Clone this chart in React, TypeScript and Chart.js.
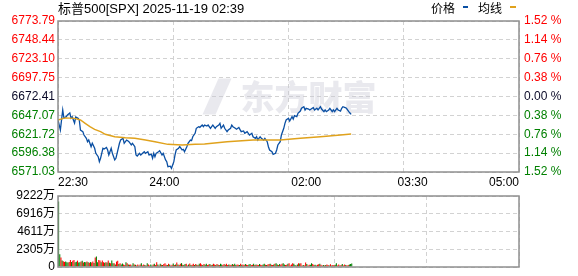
import React, { useEffect, useRef } from 'react';
import { Chart, registerables } from 'chart.js';

Chart.register(...registerables);

// ---------- data ----------
const titleText = '标普500[SPX] 2025-11-19 02:39';
const legendPrice = '价格';
const legendAvg = '均线';
const prevClose = 6672.41;

const priceTicks = [6571.03, 6596.38, 6621.72, 6647.07, 6672.41, 6697.75, 6723.1, 6748.44, 6773.79];
const pctTicks = [-1.52, -1.14, -0.76, -0.38, 0, 0.38, 0.76, 1.14, 1.52];
const timeTickMinutes = [0, 90, 210, 300, 390];
const timeTickLabels = ['22:30', '24:00', '02:00', '03:30', '05:00'];
const gridMinutes = [0, 97.5, 195, 292.5, 390];
const volumeTicks = [0, 2305, 4611, 6916, 9222];

const priceMinutes = [
  0, 2, 4, 5, 7, 8, 10, 11, 12, 14,
  15, 17, 18, 19, 21, 22, 24, 25, 26, 28,
  29, 31, 32, 34, 35, 36, 38, 39, 41, 42,
  43, 45, 46, 48, 49, 50, 52, 53, 55, 56,
  58, 59, 60, 62, 63, 65, 66, 67, 69, 70,
  72, 73, 74, 76, 77, 79, 80, 81, 82, 83,
  85, 86, 88, 89, 91, 92, 93, 95, 96, 98,
  99, 100, 102, 103, 105, 106, 107, 109, 110, 112,
  113, 114, 116, 117, 119, 120, 122, 123, 124, 126,
  127, 129, 130, 131, 133, 134, 136, 137, 138, 140,
  141, 143, 144, 146, 147, 148, 150, 151, 153, 154,
  155, 157, 158, 160, 161, 162, 164, 165, 167, 168,
  169, 171, 172, 174, 175, 177, 178, 179, 181, 182,
  184, 185, 186, 188, 189, 191, 192, 193, 195, 196,
  198, 199, 200, 202, 203, 205, 206, 208, 209, 210,
  212, 213, 215, 216, 217, 219, 220, 222, 223, 225,
  226, 227, 229, 230, 232, 233, 234, 236, 237, 239,
  240, 241, 243, 244, 246, 247, 248,
];

const priceValues = [
  6640.9, 6627.4, 6654.3, 6643.5, 6645.3, 6647.6, 6650.3, 6643.5, 6645.3, 6636.8,
  6644.9, 6643.1, 6640.9, 6627.4, 6625.2, 6620.7, 6616.3, 6611.7, 6614.0, 6605.0,
  6609.6, 6602.9, 6596.1, 6591.6, 6584.9, 6589.4, 6602.9, 6601.8, 6603.9, 6600.6,
  6593.9, 6602.9, 6596.1, 6587.2, 6589.4, 6596.1, 6609.6, 6614.0, 6616.3, 6609.6,
  6614.0, 6613.1, 6611.7, 6607.3, 6609.6, 6605.0, 6593.9, 6592.5, 6596.1, 6593.9,
  6596.9, 6598.3, 6596.1, 6598.3, 6593.9, 6594.8, 6589.4, 6596.1, 6591.6, 6596.1,
  6598.3, 6599.6, 6593.9, 6596.1, 6587.2, 6584.9, 6578.2, 6578.9, 6576.0, 6584.9,
  6593.9, 6600.6, 6602.9, 6605.0, 6600.6, 6601.5, 6598.3, 6605.0, 6609.6, 6614.0,
  6613.2, 6618.4, 6623.0, 6629.7, 6631.9, 6631.0, 6634.1, 6631.9, 6634.1, 6632.8,
  6634.1, 6629.7, 6631.9, 6634.1, 6629.7, 6631.9, 6634.1, 6636.4, 6629.7, 6634.1,
  6629.7, 6625.2, 6627.4, 6629.7, 6634.1, 6631.9, 6629.7, 6628.5, 6630.8, 6627.9,
  6625.2, 6626.1, 6623.0, 6625.2, 6623.0, 6620.7, 6623.0, 6618.4, 6616.3, 6618.4,
  6614.0, 6618.4, 6616.3, 6614.0, 6616.3, 6611.7, 6605.0, 6600.6, 6598.3, 6594.8,
  6596.1, 6600.6, 6607.3, 6611.7, 6620.7, 6629.7, 6636.4, 6640.9, 6643.1, 6639.5,
  6645.3, 6642.2, 6646.6, 6645.3, 6649.9, 6652.9, 6656.6, 6658.7, 6654.3, 6656.6,
  6655.6, 6654.3, 6656.6, 6657.4, 6654.3, 6656.6, 6654.3, 6658.7, 6655.6, 6652.0,
  6654.3, 6652.0, 6654.3, 6656.6, 6652.0, 6654.3, 6652.0, 6656.6, 6654.3, 6652.9,
  6656.6, 6658.7, 6657.4, 6656.6, 6652.0, 6650.3, 6648.5,
];

const avgMinutes = [0, 6, 14, 19, 23, 27, 31, 36, 40, 48, 57, 65, 74, 82, 93, 105, 116, 124, 143, 165, 188, 205, 222, 239, 248];
const avgValues = [
  6640.9, 6643.7, 6643.1, 6640.9, 6636.4, 6631.9, 6628.4, 6625.2, 6621.7, 6618.4,
  6617.1, 6616.3, 6614.0, 6611.7, 6608.2, 6607.3, 6608.2, 6608.6, 6611.7, 6614.0,
  6614.0, 6616.3, 6618.4, 6620.7, 6622.1,
];

// volume per minute, in 万
const volumes = [
  8500, 1650, 1250, 830, 750, 660, 700, 620, 600, 660,
  910, 640, 820, 900, 620, 680, 830, 600, 620, 700,
  820, 580, 640, 620, 700, 620, 560, 640, 600, 700,
  520, 1250, 1370, 620, 910, 830, 620, 830, 620, 540,
  620, 600, 830, 540, 480, 830, 500, 500, 330, 700,
  820, 400, 500, 330, 450, 330, 250, 620, 500, 330,
  300, 330, 210, 500, 330, 280, 200, 330, 210, 330,
  500, 200, 330, 250, 210, 500, 330, 210, 330, 200,
  330, 420, 250, 620, 330, 200, 420, 300, 250, 380,
  500, 300, 250, 420, 330, 200, 300, 460, 250, 330,
  580, 330, 250, 420, 500, 300, 250, 380, 420, 200,
  330, 460, 250, 300, 420, 250, 380, 300, 250, 420,
  500, 330, 250, 380, 300, 420, 250, 330, 380, 250,
  300, 420, 330, 250, 380, 300, 250, 420, 330, 250,
  380, 300, 420, 250, 330, 300, 250, 380, 300, 420,
  250, 330, 300, 250, 420, 300, 330, 250, 380, 300,
  250, 330, 380, 250, 300, 420, 250, 330, 300, 250,
  380, 300, 250, 330, 420, 300, 250, 330, 380, 420,
  300, 250, 330, 420, 500, 330, 250, 380, 300, 420,
  500, 330, 250, 300, 420, 500, 210, 330, 500, 420,
  250, 210, 330, 500, 450, 500, 210, 250, 210, 580,
  380, 210, 300, 300, 500, 380, 250, 300, 210, 300,
  350, 420, 300, 210, 250, 210, 250, 330, 250, 200,
  350, 210, 250, 250, 300, 500, 200, 330, 210, 250,
  380, 210, 330, 250, 210, 250, 330, 380, 450,
];

// r = up (red), g = down (green)
const volumeDirs = [
  'ggrgrrgggr', 'rgrrggrggr', 'grggrgrgrr', 'grggrrgrrg', 'rgrgrggrgr',
  'rgrggrrgrg', 'rrggrgrrgr', 'grrgrgrrgg', 'rgrrgrgrgr', 'rrgrgrrgrg',
  'rgrrgrggrr', 'grgrrgrgrg', 'rrgrggrrgr', 'grrgrgrggr', 'rgrrgrrgrg',
  'grrgrgrrgr', 'rggrrgrgrr', 'grrggrgrrg', 'rrgrggrgrr', 'ggrrgrrrrg',
  'grgrgrrgrr', 'grrggrrggr', 'rgrrgrgrrg', 'rgrrggrrgr', 'grrgrrggg',
].join('');

const volumeMinutes = Array.from({ length: 390 }, (_, i) => i);

// ---------- styles ----------
const FONT = "'Liberation Sans', 'Noto Sans CJK SC', sans-serif";
const RED = '#ff0000';
const GREEN = '#008000';
const DARK = '#0a0a28';
const GRID = '#d2d2d2';
const FRAME = '#8f8f8f';
const BLUE = '#0a4fa3';
const GOLD = '#e0a21c';

const priceColor = (v: number) => (Math.abs(v - prevClose) < 0.01 ? DARK : v > prevClose ? RED : GREEN);
const pctColor = (v: number) => (Math.abs(v) < 0.001 ? DARK : v > 0 ? RED : GREEN);

const framePlugin = {
  id: 'frame',
  afterDraw(chart: any) {
    const { ctx, chartArea } = chart;
    ctx.save();
    ctx.strokeStyle = FRAME;
    ctx.lineWidth = 1.5;
    ctx.strokeRect(chartArea.left, chartArea.top, chartArea.right - chartArea.left, chartArea.bottom - chartArea.top);
    ctx.restore();
  },
};

const watermarkPlugin = {
  id: 'watermark',
  beforeDatasetsDraw(chart: any) {
    const { ctx, chartArea } = chart;
    const cx = (chartArea.left + chartArea.right) / 2;
    const cy = (chartArea.top + chartArea.bottom) / 2;
    ctx.save();
    ctx.fillStyle = 'rgba(200,200,212,0.4)';
    ctx.font = "900 34px 'Noto Sans CJK SC', sans-serif";
    ctx.textAlign = 'center';
    ctx.textBaseline = 'middle';
    ctx.fillText('东方财富', cx + 20, cy + 1);
    ctx.beginPath();
    ctx.moveTo(cx - 86, cy + 18);
    ctx.lineTo(cx - 70, cy - 18);
    ctx.lineTo(cx - 57, cy - 18);
    ctx.lineTo(cx - 73, cy + 18);
    ctx.closePath();
    ctx.fill();
    ctx.restore();
  },
};

export default function App() {
  const priceRef = useRef<HTMLCanvasElement>(null);
  const volRef = useRef<HTMLCanvasElement>(null);

  useEffect(() => {
    Chart.defaults.font.family = FONT;
    Chart.defaults.font.size = 12;

    const priceChart = new Chart(priceRef.current as HTMLCanvasElement, {
      type: 'line',
      data: {
        datasets: [
          {
            label: legendAvg,
            data: avgMinutes.map((m, i) => ({ x: m, y: avgValues[i] })),
            borderColor: GOLD,
            borderWidth: 1.4,
            pointRadius: 0,
            tension: 0,
            xAxisID: 'x',
            yAxisID: 'y',
          },
          {
            label: legendPrice,
            data: priceMinutes.map((m, i) => ({ x: m, y: priceValues[i] })),
            borderColor: BLUE,
            borderWidth: 1.3,
            pointRadius: 0,
            tension: 0,
            xAxisID: 'x',
            yAxisID: 'y',
          },
        ],
      },
      options: {
        animation: false,
        responsive: false,
        layout: { padding: { top: 21, left: 0, right: 0, bottom: 0 } },
        plugins: { legend: { display: false }, tooltip: { enabled: false } },
        scales: {
          x: {
            type: 'linear',
            min: 0,
            max: 390,
            position: 'bottom',
            afterBuildTicks: (s: any) => {
              s.ticks = timeTickMinutes.map((v) => ({ value: v }));
            },
            afterFit: (s: any) => {
              s.height = 18;
            },
            ticks: {
              autoSkip: false,
              maxRotation: 0,
              align: 'inner',
              padding: 3,
              color: '#000',
              callback: (v: any) => timeTickLabels[timeTickMinutes.indexOf(Number(v))],
            },
            grid: { display: false, drawTicks: false },
            border: { display: false },
          },
          xGrid: {
            type: 'linear',
            min: 0,
            max: 390,
            position: 'bottom',
            afterBuildTicks: (s: any) => {
              s.ticks = gridMinutes.map((v) => ({ value: v }));
            },
            afterFit: (s: any) => {
              s.height = 0;
            },
            ticks: { display: false },
            grid: { color: GRID, drawTicks: false, lineWidth: 1 },
            border: { display: false, dash: [4, 3] },
          },
          y: {
            type: 'linear',
            position: 'left',
            min: priceTicks[0],
            max: priceTicks[priceTicks.length - 1],
            afterBuildTicks: (s: any) => {
              s.ticks = priceTicks.map((v) => ({ value: v }));
            },
            afterFit: (s: any) => {
              s.width = 58;
            },
            ticks: {
              padding: 3,
              color: (c: any) => priceColor(c.tick.value),
              callback: (v: any) => Number(v).toFixed(2),
            },
            grid: { color: GRID, drawTicks: false, lineWidth: 1 },
            border: { display: false, dash: [4, 3] },
          },
          y1: {
            type: 'linear',
            position: 'right',
            min: pctTicks[0],
            max: pctTicks[pctTicks.length - 1],
            afterBuildTicks: (s: any) => {
              s.ticks = pctTicks.map((v) => ({ value: v }));
            },
            afterFit: (s: any) => {
              s.width = 59;
            },
            ticks: {
              padding: 5,
              color: (c: any) => pctColor(c.tick.value),
              callback: (v: any) => Math.abs(Number(v)).toFixed(2) + ' %',
            },
            grid: { display: false, drawTicks: false },
            border: { display: false },
          },
        },
      } as any,
      plugins: [watermarkPlugin, framePlugin],
    });

    const volChart = new Chart(volRef.current as HTMLCanvasElement, {
      type: 'bar',
      data: {
        labels: volumeMinutes,
        datasets: [
          {
            data: volumes,
            backgroundColor: volumes.map((_, i) => (volumeDirs[i] === 'r' ? RED : GREEN)),
            barPercentage: 0.9,
            categoryPercentage: 1,
            xAxisID: 'x',
            yAxisID: 'y',
          },
        ],
      },
      options: {
        animation: false,
        responsive: false,
        layout: { padding: { top: 10, left: 0, right: 0, bottom: 0 } },
        plugins: { legend: { display: false }, tooltip: { enabled: false } },
        scales: {
          x: {
            type: 'category',
            offset: true,
            position: 'bottom',
            afterFit: (s: any) => {
              s.height = 6;
            },
            ticks: { display: false },
            grid: { display: false, drawTicks: false },
            border: { display: false },
          },
          xGrid: {
            type: 'linear',
            min: 0,
            max: 390,
            position: 'bottom',
            afterBuildTicks: (s: any) => {
              s.ticks = gridMinutes.map((v) => ({ value: v }));
            },
            afterFit: (s: any) => {
              s.height = 0;
            },
            ticks: { display: false },
            grid: { color: GRID, drawTicks: false, lineWidth: 1 },
            border: { display: false, dash: [4, 3] },
          },
          y: {
            type: 'linear',
            position: 'left',
            min: 0,
            max: volumeTicks[volumeTicks.length - 1],
            afterBuildTicks: (s: any) => {
              s.ticks = volumeTicks.map((v) => ({ value: v }));
            },
            afterFit: (s: any) => {
              s.width = 58;
            },
            ticks: {
              padding: 3,
              color: '#000',
              font: { size: 12, lineHeight: 1 },
              callback: (v: any) => (Number(v) === 0 ? '0' : `${v}万`),
            },
            grid: { color: GRID, drawTicks: false, lineWidth: 1 },
            border: { display: false, dash: [4, 3] },
          },
          y1: {
            type: 'linear',
            position: 'right',
            min: 0,
            max: 1,
            afterFit: (s: any) => {
              s.width = 59;
            },
            ticks: { display: false },
            grid: { display: false, drawTicks: false },
            border: { display: false },
          },
        },
      } as any,
      plugins: [framePlugin],
    });

    return () => {
      priceChart.destroy();
      volChart.destroy();
    };
  }, []);

  const textStyle: React.CSSProperties = {
    position: 'absolute',
    top: 0,
    fontFamily: FONT,
    fontSize: 13,
    lineHeight: '18px',
    color: '#000',
    whiteSpace: 'nowrap',
  };

  return (
    <div style={{ position: 'absolute', left: 0, top: 0, width: 578, height: 276, background: '#fff', overflow: 'hidden' }}>
      <canvas ref={priceRef} width={578} height={190} style={{ position: 'absolute', left: 0, top: 0 }} />
      <canvas ref={volRef} width={578} height={90} style={{ position: 'absolute', left: 0, top: 186 }} />
      <div style={{ ...textStyle, left: 58 }}>{titleText}</div>
      <div style={{ ...textStyle, left: 431, fontSize: 12, display: 'flex', alignItems: 'center' }}>
        <span>{legendPrice}</span>
        <span style={{ display: 'inline-block', width: 5, height: 2, background: BLUE, marginLeft: 8, marginTop: -5 }} />
        <span style={{ marginLeft: 10 }}>{legendAvg}</span>
        <span style={{ display: 'inline-block', width: 6, height: 2, background: GOLD, marginLeft: 8, marginTop: -5 }} />
      </div>
    </div>
  );
}
